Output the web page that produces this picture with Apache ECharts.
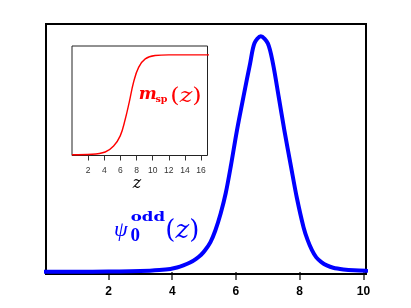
<!DOCTYPE html>
<html>
<head>
<meta charset="utf-8">
<script src="https://cdn.jsdelivr.net/npm/echarts@6/dist/echarts.min.js"></script>
<style>
html,body{margin:0;padding:0;background:#fff;}
#c{width:411px;height:308px;}
</style>
</head>
<body>
<div id="c"></div>
<script>
// Main curve psi_0^odd(z)
const psiZ =   [0,     1,     2,     2.7,   3.3,    3.6,   3.94,  4.15,  4.35,  4.56, 4.75,  4.9,   5.03,  5.2,   5.35,  5.52,  5.68,  5.84, 6.03, 6.236, 6.445, 6.58, 6.78, 7.0,  7.16,  7.34,  7.52, 7.73,  7.91,  8.12, 8.25,  8.38,  8.52,  8.68,  8.85,  9.05,  9.37,  9.7,   10.1];
const psiVal = [0.001, 0.001, 0.002, 0.003, 0.0055, 0.008, 0.013, 0.019, 0.028, 0.04, 0.056, 0.072, 0.092, 0.127, 0.175, 0.248, 0.335, 0.45, 0.6,  0.744, 0.885, 0.97, 1.0,  0.97, 0.885, 0.744, 0.60, 0.445, 0.315, 0.19, 0.135, 0.094, 0.062, 0.042, 0.028, 0.018, 0.011, 0.007, 0.005];
// Inset curve m_sp(z)
const mZ =   [0,     2.46,  4.12,  5.16,  5.98,  6.6,  7.1,  7.64, 8.26,  9.08, 10.3,  12,  14,  17];
const mVal = [0.008, 0.012, 0.035, 0.095, 0.195, 0.36, 0.53, 0.73, 0.876, 0.96, 0.993, 1.0, 1.0, 1.0];
// Tick labels
const mainTicks = [2, 4, 6, 8, 10];
const insetTicks = [2, 4, 6, 8, 10, 12, 14, 16];

const chart = echarts.init(document.getElementById('c'), null, {renderer: 'canvas'});
const pair = (xs, ys) => xs.map((x, i) => [x, ys[i]]);

chart.setOption({
  animation: false,
  backgroundColor: '#fff',
  grid: [
    {left: 46, top: 24, width: 320, height: 250, show: true, borderColor: '#000', borderWidth: 2, backgroundColor: 'transparent', z: 1},
    {left: 72, top: 46, width: 135.5, height: 109.5, show: true, borderColor: '#222', borderWidth: 1, backgroundColor: '#fff', z: 5}
  ],
  xAxis: [
    {
      gridIndex: 0, type: 'value', min: 0.04, max: 10.08,
      axisLine: {show: false},
      splitLine: {show: false},
      axisTick: {show: true, customValues: mainTicks, length: 8, lineStyle: {color: '#333', width: 1.5}},
      axisLabel: {show: true, customValues: mainTicks, margin: 12, color: '#000',
        fontFamily: 'Liberation Sans', fontWeight: 'bold', fontSize: 12}
    },
    {
      gridIndex: 1, type: 'value', min: 0, max: 16.8, z: 6,
      axisLine: {show: false},
      splitLine: {show: false},
      axisTick: {show: true, customValues: insetTicks, length: 5, lineStyle: {color: '#333', width: 1}},
      axisLabel: {show: true, customValues: insetTicks, margin: 11, color: '#333',
        fontFamily: 'Liberation Sans', fontSize: 8.5}
    }
  ],
  yAxis: [
    {gridIndex: 0, type: 'value', min: -0.0085, max: 1.052, show: false},
    {gridIndex: 1, type: 'value', min: 0, max: 1.088, show: false}
  ],
  series: [
    {
      type: 'line', xAxisIndex: 0, yAxisIndex: 0, data: pair(psiZ, psiVal),
      smooth: 0.3, showSymbol: false, clip: true, z: 3,
      lineStyle: {color: '#0000ff', width: 4, join: 'round', cap: 'round'}
    },
    {
      type: 'line', xAxisIndex: 1, yAxisIndex: 1, data: pair(mZ, mVal),
      smooth: 0.4, showSymbol: false, clip: true, z: 7,
      lineStyle: {color: '#ff0000', width: 1.4}
    }
  ],
  graphic: [
    // psi_0^odd(z)
    {type: 'text', x: 114, y: 230, z: 10, style: {text: 'ψ', fill: '#0000ff', font: 'italic 22px "Liberation Serif"', textVerticalAlign: 'middle'}},
    {type: 'text', x: 130.7, y: 217.8, scaleX: 1.28, z: 10, style: {text: 'odd', fill: '#0000ff', font: 'bold 13px "DejaVu Serif"', textVerticalAlign: 'middle'}},
    {type: 'text', x: 130.5, y: 236.3, z: 10, style: {text: '0', fill: '#0000ff', font: 'bold 19px "Liberation Serif"', textVerticalAlign: 'middle'}},
    {type: 'text', x: 165.3, y: 231.6, z: 10, style: {text: '{p|(}{i|z}{p|)}', fill: '#0000ff', textVerticalAlign: 'middle',
      rich: {p: {font: '26px "DejaVu Serif"', fill: '#0000ff'}, i: {font: 'italic 26px "DejaVu Serif"', fill: '#0000ff'}}}},
    // m_sp(z)
    {type: 'text', x: 138.7, y: 94.8, z: 10, style: {text: 'm', fill: '#ff0000', font: 'bold italic 17px "DejaVu Serif"', textVerticalAlign: 'middle'}},
    {type: 'text', x: 155.5, y: 99.5, z: 10, style: {text: 'sp', fill: '#ff0000', font: 'bold 9.5px "DejaVu Serif"', textVerticalAlign: 'middle'}},
    {type: 'text', x: 170.3, y: 96.5, scaleX: 1.2, z: 10, style: {text: '{p|(}{i|z}{p|)}', fill: '#ff0000', textVerticalAlign: 'middle',
      rich: {p: {font: '20px "DejaVu Serif"', fill: '#ff0000'}, i: {font: 'italic 20px "DejaVu Serif"', fill: '#ff0000'}}}},
    // inset axis name
    {type: 'text', x: 137, y: 183.5, z: 10, style: {text: 'z', fill: '#000', font: 'italic 16px "DejaVu Serif"', textAlign: 'center', textVerticalAlign: 'middle'}}
  ]
});
</script>
</body>
</html>
